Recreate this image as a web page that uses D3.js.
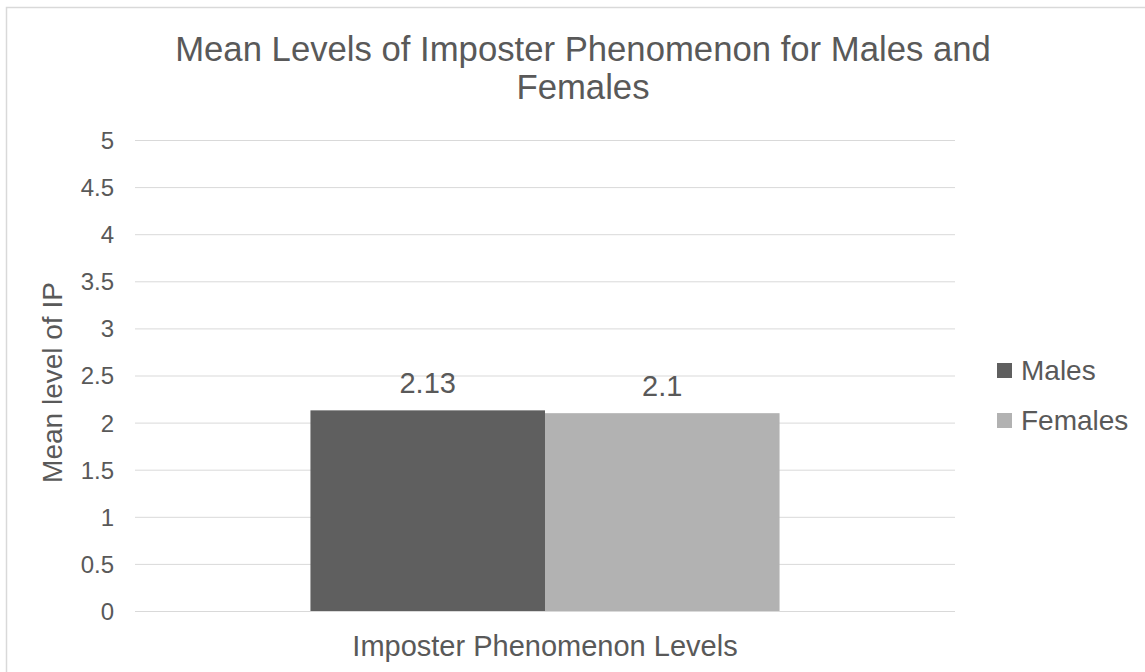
<!DOCTYPE html>
<html>
<head>
<meta charset="utf-8">
<script src="https://cdn.jsdelivr.net/npm/d3@7"></script>
<style>
  html, body { margin: 0; padding: 0; background: #ffffff; }
  svg { display: block; font-family: "Liberation Sans", Arial, sans-serif; }
</style>
</head>
<body>
<svg id="chart" width="1145" height="672"></svg>
<script>
// ---- data ----
const titleLines = ["Mean Levels of Imposter Phenomenon for Males and", "Females"];
const categories = ["Imposter Phenomenon Levels"];
const seriesNames = ["Males", "Females"];
const maleValues = [2.13];
const femaleValues = [2.1];
const yTicks = [0, 0.5, 1, 1.5, 2, 2.5, 3, 3.5, 4, 4.5, 5];
const yAxisTitle = "Mean level of IP";
const seriesColors = ["#5f5f5f", "#b2b2b2"];

const seriesValues = [maleValues, femaleValues];

const svg = d3.select("#chart");
const textColor = "#595959";
const gridColor = "#d9d9d9";

// chart border (extends past the visible window, as in the reference)
svg.append("rect")
  .attr("x", 6.5).attr("y", 7.5)
  .attr("width", 1153).attr("height", 700)
  .attr("fill", "#ffffff")
  .attr("stroke", gridColor).attr("stroke-width", 1.5);

const plot = { left: 135, right: 955, top: 140, bottom: 611 };

const y = d3.scaleLinear().domain([0, 5]).range([plot.bottom, plot.top]);
const x0 = d3.scaleBand().domain(categories)
  .range([plot.left, plot.right]).paddingInner(0).paddingOuter(0.374);
const x1 = d3.scaleBand().domain(seriesNames)
  .range([0, x0.bandwidth()]).padding(0);

// gridlines + tick labels via axis
const yAxis = d3.axisLeft(y).tickValues(yTicks)
  .tickSize(-(plot.right - plot.left)).tickPadding(21)
  .tickFormat(d => String(d));
const gy = svg.append("g")
  .attr("transform", `translate(${plot.left},0)`)
  .call(yAxis);
gy.select(".domain").remove();
gy.selectAll(".tick line").attr("stroke", gridColor).attr("stroke-width", 1);
gy.selectAll(".tick text")
  .attr("fill", textColor)
  .attr("dy", "0.35em")
  .style("font-size", "24px")
  .attr("font-family", "Liberation Sans, Arial, sans-serif");

// bars
const groups = svg.append("g").selectAll("g")
  .data(categories)
  .join("g")
  .attr("transform", d => `translate(${x0(d)},0)`);

groups.selectAll("rect")
  .data((d, i) => seriesNames.map((s, k) => ({ s, v: seriesValues[k][i], k })))
  .join("rect")
  .attr("x", d => x1(d.s))
  .attr("y", d => y(d.v))
  .attr("width", x1.bandwidth())
  .attr("height", d => y(0) - y(d.v))
  .attr("fill", d => seriesColors[d.k]);

// data labels
groups.selectAll("text.lbl")
  .data((d, i) => seriesNames.map((s, k) => ({ s, v: seriesValues[k][i], k })))
  .join("text")
  .attr("class", "lbl")
  .attr("x", d => x1(d.s) + x1.bandwidth() / 2)
  .attr("y", d => y(d.v) - 17)
  .attr("text-anchor", "middle")
  .attr("fill", textColor)
  .style("font-size", "29px")
  .text(d => String(d.v));

// x category label
svg.append("g").selectAll("text")
  .data(categories)
  .join("text")
  .attr("x", d => x0(d) + x0.bandwidth() / 2)
  .attr("y", 656)
  .attr("text-anchor", "middle")
  .attr("fill", textColor)
  .style("font-size", "29px")
  .text(d => d);

// y axis title
svg.append("text")
  .attr("transform", `translate(62,${(plot.top + plot.bottom) / 2 + 7}) rotate(-90)`)
  .attr("text-anchor", "middle")
  .attr("fill", textColor)
  .style("font-size", "28px")
  .text(yAxisTitle);

// title
svg.append("g").selectAll("text")
  .data(titleLines)
  .join("text")
  .attr("x", 583)
  .attr("y", (d, i) => 61 + i * 38)
  .attr("text-anchor", "middle")
  .attr("fill", textColor)
  .style("font-size", "34.7px")
  .text(d => d);

// legend
const legend = svg.append("g").selectAll("g")
  .data(seriesNames)
  .join("g")
  .attr("transform", (d, i) => `translate(997,${363 + i * 50})`);
legend.append("rect")
  .attr("width", 15).attr("height", 15)
  .attr("fill", (d, i) => seriesColors[i]);
legend.append("text")
  .attr("x", 24).attr("y", 17)
  .attr("fill", textColor)
  .style("font-size", "28px")
  .text(d => d);
</script>
</body>
</html>
